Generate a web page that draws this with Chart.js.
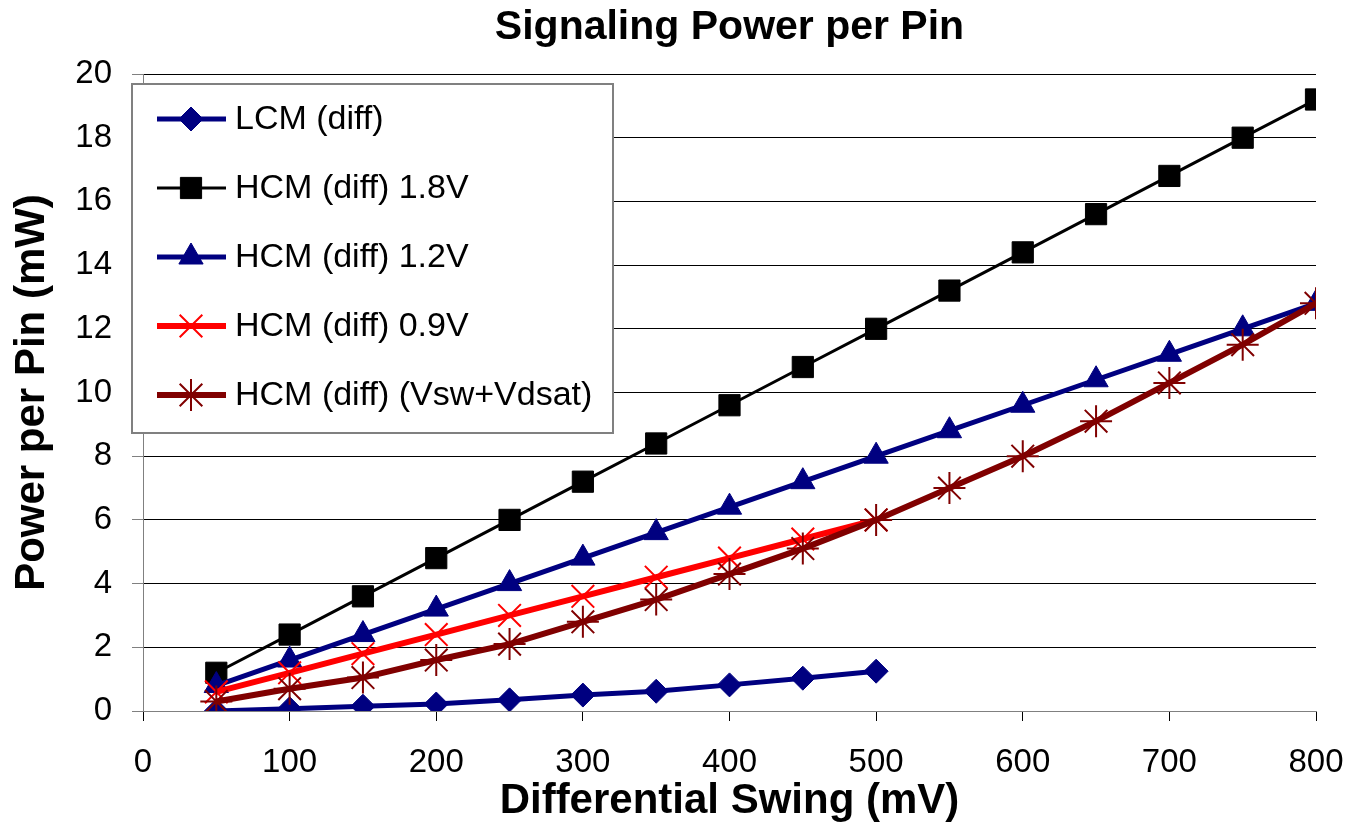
<!DOCTYPE html>
<html>
<head>
<meta charset="utf-8">
<script src="https://cdn.jsdelivr.net/npm/chart.js@4.4.1/dist/chart.umd.min.js"></script>
<style>
  body { margin: 0; background: #fff; }
  canvas { display: block; }
</style>
</head>
<body>
<canvas id="powerChart" width="1352" height="822"></canvas>
<script>
// -----------------------------
// Data
// -----------------------------
const swing = [50, 100, 150, 200, 250, 300, 350, 400, 450, 500, 550, 600, 650, 700, 750, 800];

const lcmDiff = [0, 0.07, 0.15, 0.22, 0.35, 0.5, 0.62, 0.82, 1.03, 1.25];
const hcm18 = [1.2, 2.4, 3.6, 4.8, 6.0, 7.2, 8.4, 9.6, 10.8, 12.0, 13.2, 14.4, 15.6, 16.8, 18.0, 19.2];
const hcm12 = [0.8, 1.6, 2.4, 3.2, 4.0, 4.8, 5.6, 6.4, 7.2, 8.0, 8.8, 9.6, 10.4, 11.2, 12.0, 12.8];
const hcm09 = [0.6, 1.2, 1.8, 2.4, 3.0, 3.6, 4.2, 4.8, 5.4, 6.0];
const hcmVsw = [0.3, 0.7, 1.05, 1.6, 2.1, 2.8, 3.5, 4.3, 5.1, 6.0, 7.0, 8.0, 9.1, 10.3, 11.5, 12.8];

const seriesLabels = [
  "LCM (diff)",
  "HCM (diff) 1.8V",
  "HCM (diff) 1.2V",
  "HCM (diff) 0.9V",
  "HCM (diff) (Vsw+Vdsat)"
];
const xTicks = [0, 100, 200, 300, 400, 500, 600, 700, 800];
const yTicks = [0, 2, 4, 6, 8, 10, 12, 14, 16, 18, 20];
const chartTitle = "Signaling Power per Pin";

const FONT = "'Liberation Sans', Arial, sans-serif";

function toPoints(values) {
  return values.map((v, i) => ({ x: swing[i], y: v }));
}

const styles = [
  { color: "#000080", width: 5, style: "rectRot", radius: 12, fill: "#000080", pbw: 1 },
  { color: "#000000", width: 3, style: "rect", radius: 15, fill: "#000000", pbw: 1 },
  { color: "#000080", width: 5, style: "triangle", radius: 14, fill: "#000080", pbw: 1 },
  { color: "#ff0000", width: 6, style: "crossRot", radius: 16, fill: "#ff0000", pbw: 2 },
  { color: "#800000", width: 6, style: "star", radius: 16, fill: "#800000", pbw: 2 }
];

const allSeries = [lcmDiff, hcm18, hcm12, hcm09, hcmVsw];

const datasets = allSeries.map((vals, i) => ({
  label: seriesLabels[i],
  data: toPoints(vals),
  borderColor: styles[i].color,
  backgroundColor: styles[i].fill,
  borderWidth: styles[i].width,
  pointStyle: styles[i].style,
  pointRadius: styles[i].radius,
  pointBackgroundColor: styles[i].fill,
  pointBorderColor: styles[i].color,
  pointBorderWidth: styles[i].pbw,
  tension: 0,
  order: -i
}));

// -----------------------------
// Title centred over the plot area + legend box inside the plot
// -----------------------------
const titleAndLegend = {
  id: "titleAndLegend",
  afterDraw(chart) {
    const ctx = chart.ctx;
    const area = chart.chartArea;
    ctx.save();

    ctx.fillStyle = "#000";
    ctx.font = "bold 41px " + FONT;
    ctx.textAlign = "center";
    ctx.textBaseline = "middle";
    ctx.fillText(chartTitle, (area.left + area.right) / 2, 28);

    const bx = 132, by = 84, bw = 481, bh = 349;
    ctx.fillStyle = "#fff";
    ctx.fillRect(bx, by, bw, bh);
    ctx.strokeStyle = "#808080";
    ctx.lineWidth = 2;
    ctx.strokeRect(bx, by, bw, bh);

    chart.data.datasets.forEach((ds, i) => {
      const cy = 119 + i * 69;
      ctx.strokeStyle = ds.borderColor;
      ctx.lineWidth = ds.borderWidth;
      ctx.beginPath();
      ctx.moveTo(157, cy);
      ctx.lineTo(226, cy);
      ctx.stroke();

      ctx.fillStyle = ds.pointBackgroundColor;
      ctx.strokeStyle = ds.pointBorderColor;
      ctx.lineWidth = ds.pointBorderWidth;
      Chart.helpers.drawPoint(ctx, {
        pointStyle: ds.pointStyle,
        radius: ds.pointRadius,
        rotation: 0,
        borderWidth: ds.pointBorderWidth
      }, 191, cy);

      ctx.fillStyle = "#000";
      ctx.font = "34px " + FONT;
      ctx.textAlign = "left";
      ctx.textBaseline = "middle";
      ctx.fillText(ds.label, 235, cy + 1);
    });
    ctx.restore();
  }
};

// -----------------------------
// Chart
// -----------------------------
const chartCtx = document.getElementById("powerChart").getContext("2d");
const powerChart = new Chart(chartCtx, {
  type: "line",
  data: { datasets: datasets },
  options: {
    responsive: false,
    animation: false,
    layout: { padding: { left: 0, right: 36, top: 74, bottom: 0 } },
    plugins: {
      legend: { display: false },
      tooltip: { enabled: false },
      title: { display: false }
    },
    scales: {
      x: {
        type: "linear",
        min: xTicks[0],
        max: xTicks[xTicks.length - 1],
        afterBuildTicks: scale => { scale.ticks = xTicks.map(v => ({ value: v })); },
        afterFit: scale => {
          scale.height = 111;
          scale.paddingLeft = 0;
          scale.paddingRight = 0;
        },
        ticks: {
          color: "#000",
          padding: 22,
          maxRotation: 0,
          font: { family: FONT, size: 33 }
        },
        grid: {
          drawOnChartArea: false,
          drawTicks: true,
          tickLength: 10,
          tickColor: "#000"
        },
        border: { color: "#808080", width: 1 },
        title: {
          display: true,
          text: "Differential Swing (mV)",
          color: "#000",
          font: { family: FONT, size: 42, weight: "bold", lineHeight: 1.0 },
          padding: { top: 0, bottom: 0 }
        }
      },
      y: {
        min: yTicks[0],
        max: yTicks[yTicks.length - 1],
        afterBuildTicks: scale => { scale.ticks = yTicks.map(v => ({ value: v })); },
        afterFit: scale => {
          scale.width = 143;
          scale.paddingTop = 0;
          scale.paddingBottom = 0;
        },
        ticks: {
          color: "#000",
          padding: 20,
          font: { family: FONT, size: 33 }
        },
        grid: {
          color: c => (c.tick && c.tick.value === 0 ? "#808080" : "#000"),
          lineWidth: 1,
          tickLength: 11,
          tickColor: "#808080"
        },
        border: { color: "#808080", width: 1 },
        title: {
          display: true,
          text: "Power per Pin (mW)",
          color: "#000",
          font: { family: FONT, size: 42, weight: "bold", lineHeight: 1.0 },
          padding: { top: 11, bottom: 0 }
        }
      }
    }
  },
  plugins: [titleAndLegend]
});
</script>
</body>
</html>
